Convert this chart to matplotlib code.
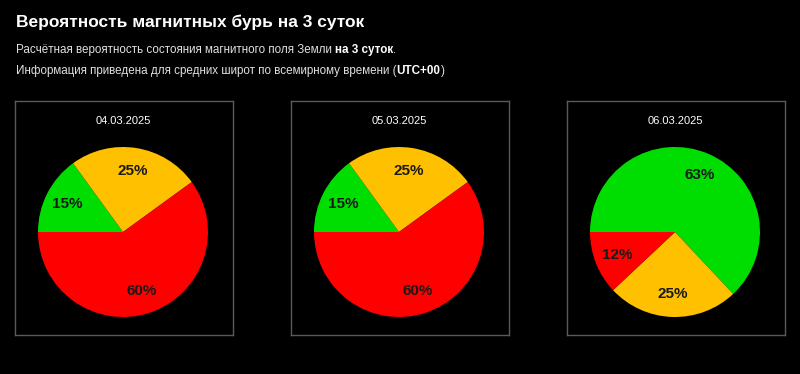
import matplotlib.pyplot as plt

plt.rcParams['font.family'] = ['Liberation Sans', 'DejaVu Sans']

# данные прогноза
dates = ['04.03.2025', '05.03.2025', '06.03.2025']
green = [15, 15, 63]
yellow = [25, 25, 25]
red = [60, 60, 12]
colors = ['#00dd00', '#ffc000', '#ff0000']

W, H = 800, 374
fig = plt.figure(figsize=(W / 100, H / 100), dpi=100, facecolor='black')

# заголовок и подзаголовок
fig.text(16 / W, 1 - 22 / H, 'Вероятность магнитных бурь на 3 суток',
         color='white', fontsize=12.5, fontweight='bold', va='center')

fig.canvas.draw()
r = fig.canvas.get_renderer()

def line(y, parts):
    x = 16
    for txt, bold in parts:
        t = fig.text(x / W, 1 - y / H, txt, color='white' if bold else '#e0e0e0',
                     fontsize=8.35, fontweight='bold' if bold else 'normal', va='center')
        x += t.get_window_extent(r).width

line(50, [('Расчётная вероятность состояния магнитного поля Земли ', False),
          ('на 3 суток', True), ('.', False)])
line(71, [('Информация приведена для средних широт по всемирному времени (', False),
          ('UTC+00', True), (')', False)])

# три блока с круговыми диаграммами
lefts = [15, 291, 567]
R = 85
for i in range(3):
    ax = fig.add_axes([lefts[i] / W, (H - 335) / H, 218 / W, 234 / H])
    ax.set_facecolor('black')
    vals = [green[i], yellow[i], red[i]]
    wedges, texts, autotexts = ax.pie(
        vals, colors=colors, startangle=180, counterclock=False,
        autopct='%d%%', pctdistance=0.73, radius=1,
        textprops=dict(color='#1a1a1a', fontsize=11, fontweight='bold'))
    ax.set_frame_on(True)
    for s in ax.spines.values():
        s.set_visible(True)
        s.set_color('#5a5a5a')
        s.set_linewidth(1)
    ax.set_xticks([])
    ax.set_yticks([])
    ax.set_aspect('equal')
    ax.set_xlim(-108 / R, 110 / R)
    ax.set_ylim(-103 / R, 131 / R)
    ax.text(0, 111 / R, dates[i], color='white', fontsize=8,
            ha='center', va='center')

fig.savefig('out.png', dpi=100, facecolor='black')
